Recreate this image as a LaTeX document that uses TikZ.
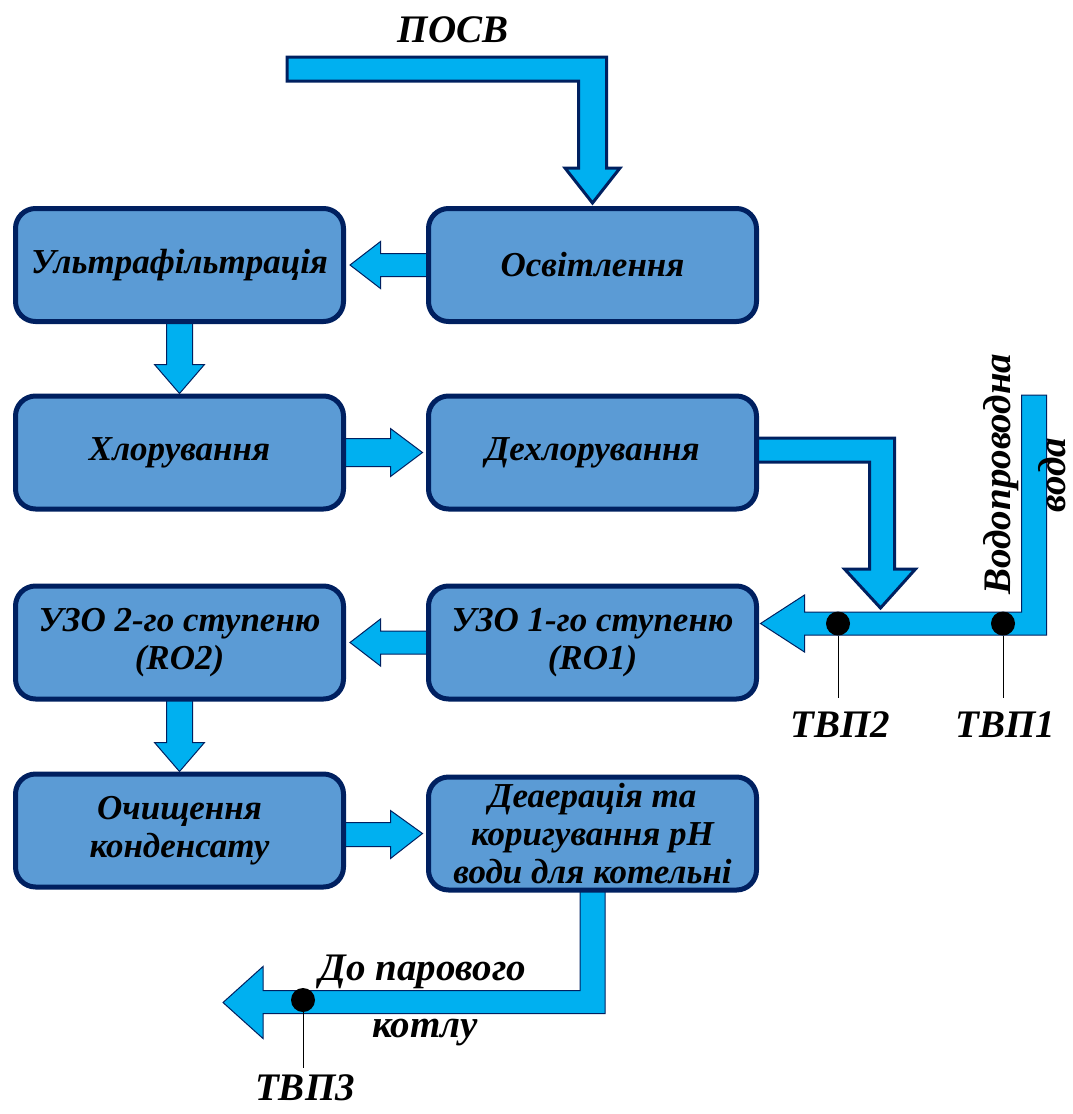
\documentclass[tikz,border=0pt]{standalone}
\usepackage{fontspec}
\setmainfont{Liberation Serif}[BoldItalicFont={Liberation Serif Bold Italic}]
\usetikzlibrary{backgrounds}
\definecolor{boxfill}{HTML}{5B9BD5}
\definecolor{navy}{HTML}{002060}
\definecolor{pipe}{HTML}{00B0F0}
\tikzset{
 proc/.style={draw=navy, line width=5pt, fill=boxfill, rounded corners=20pt,
   minimum width=328pt, minimum height=113pt, align=center, inner sep=2pt,
   font=\fontsize{35}{38}\selectfont\bfseries\itshape},
 pipethin/.style={fill=pipe, draw=navy, line width=1pt, line join=miter},
 pipethick/.style={fill=pipe, draw=navy, line width=3pt, line join=miter},
 lbl/.style={font=\fontsize{39}{44}\selectfont\bfseries\itshape, inner sep=0pt},
 tap/.style={circle, fill=black, minimum size=24pt, inner sep=0pt},
 tapline/.style={draw=black, line width=0.8pt},
}
\begin{document}
\begin{tikzpicture}[x=1pt,y=-1pt]
\useasboundingbox (0,0) rectangle (1073,1114);
% process boxes
\node[proc] (ultra) at (179.5,265) {Ультрафільтрація};
\node[proc] (osv)   at (592.5,265) {Освітлення};
\node[proc] (chl)   at (179.5,452.5) {Хлорування};
\node[proc] (dechl) at (592.5,452.5) {Дехлорування};
\node[proc] (ro2)   at (179.5,642.5) {УЗО 2-го ступеню\\(RO2)};
\node[proc] (ro1)   at (592.5,642.5) {УЗО 1-го ступеню\\(RO1)};
\node[proc] (cond)  at (179.5,830.5) {Очищення\\конденсату};
\node[proc] (dea)   at (592.5,833.5) {Деаерація та\\коригування pH\\води для котельні};
% labels
\node[lbl, anchor=base] (posv) at (453,42) {ПОСВ};
\node[lbl, anchor=base, rotate=90] (water1) at (1010,474) {Водопроводна};
\node[lbl, anchor=base, rotate=90] (water2) at (1065,475) {вода};
\node[lbl, anchor=base] (boil1) at (423,980) {До парового};
\node[lbl, anchor=base] (boil2) at (425,1037) {котлу};
% block arrows
\begin{scope}[on background layer]
\draw[pipethick, shift={(osv.north)}]
  (0,-3) -- (27.5,-38) -- (14,-38) -- (14,-149) -- (-305.5,-149) -- (-305.5,-125)
  -- (-14,-125) -- (-14,-38) -- (-27.5,-38) -- cycle;
\draw[pipethin, shift={(ultra.east)}]
  (4,0) -- (34.5,-23.5) -- (34.5,-11.5) -- (90,-11.5) -- (90,11.5) -- (34.5,11.5) -- (34.5,23.5) -- cycle;
\draw[pipethin, shift={(chl.north)}]
  (0,0) -- (25,-29) -- (13,-29) -- (13,-80) -- (-13,-80) -- (-13,-29) -- (-25,-29) -- cycle;
\draw[pipethin, shift={(dechl.west)}]
  (-3.5,0) -- (-35.5,-24) -- (-35.5,-14) -- (-90,-14) -- (-90,14) -- (-35.5,14) -- (-35.5,24) -- cycle;
\draw[pipethick, shift={(dechl.east)}]
  (-10,-14.5) -- (135.5,-14.5) -- (135.5,116.5) -- (156.5,116.5) -- (121.5,155.5)
  -- (85.5,116.5) -- (110.5,116.5) -- (110.5,9.5) -- (-10,9.5) -- cycle;
\draw[pipethin, shift={(ro1.east)}]
  (1.5,-19) -- (45.5,-47.5) -- (45.5,-30.5) -- (262.5,-30.5) -- (262.5,-247.5)
  -- (287.5,-247.5) -- (287.5,-7.5) -- (45.5,-7.5) -- (45.5,9.5) -- cycle;
\draw[pipethin, shift={(ro2.east)}]
  (4,0) -- (34.5,-23.5) -- (34.5,-11.5) -- (90,-11.5) -- (90,11.5) -- (34.5,11.5) -- (34.5,23.5) -- cycle;
\draw[pipethin, shift={(cond.north)}]
  (0,0) -- (25,-29) -- (13,-29) -- (13,-80) -- (-13,-80) -- (-13,-29) -- (-25,-29) -- cycle;
\draw[pipethin, shift={(dea.west)}]
  (-3.5,0) -- (-35.5,-23) -- (-35.5,-11) -- (-90,-11) -- (-90,13) -- (-35.5,13) -- (-35.5,25) -- cycle;
\draw[pipethin, shift={(dea.south)}]
  (12.5,-20) -- (12.5,121) -- (-329.5,121) -- (-329.5,146) -- (-369.5,110) -- (-329.5,74)
  -- (-329.5,98) -- (-12.5,98) -- (-12.5,-20) -- cycle;
\end{scope}
% sampling points
\node[tap] (t2) at (838,623.5) {};
\node[tap] (t1) at (1003,623.5) {};
\node[tap] (t3) at (303,1000) {};
\coordinate (t2end) at (838,698);
\coordinate (t1end) at (1003,698);
\coordinate (t3end) at (303,1068);
\draw[tapline] (t2) -- (t2end);
\draw[tapline] (t1) -- (t1end);
\draw[tapline] (t3) -- (t3end);
\node[lbl, anchor=base] (t2l) at (840,737) {ТВП2};
\node[lbl, anchor=base] (t1l) at (1005,737) {ТВП1};
\node[lbl, anchor=base] (t3l) at (305,1100) {ТВП3};
\end{tikzpicture}
\end{document}
